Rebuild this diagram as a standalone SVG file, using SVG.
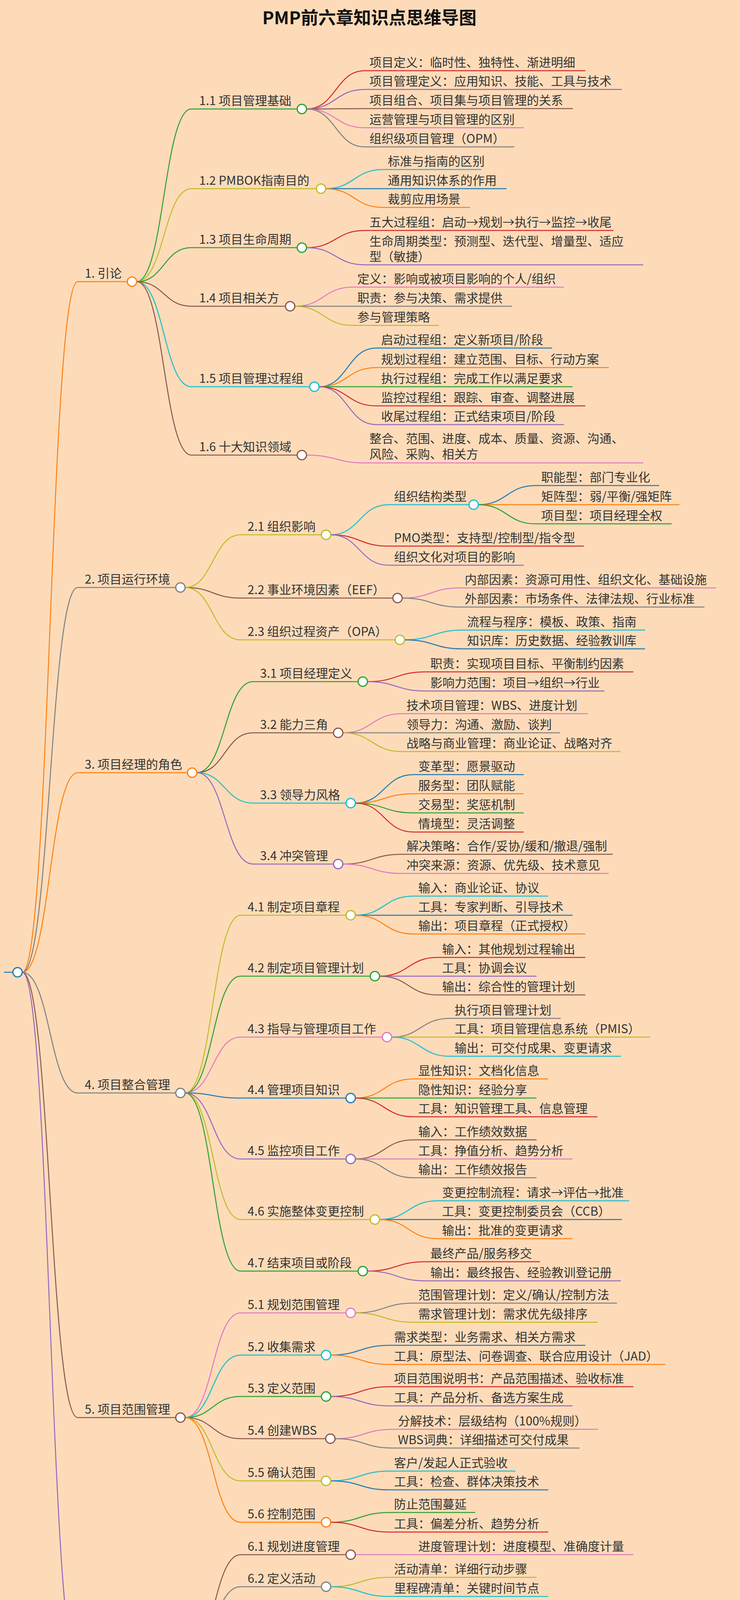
<svg xmlns="http://www.w3.org/2000/svg" width="1895" height="4627" viewBox="0 0 1895 4627">
<style>
text{font-family:"Noto Sans CJK SC","Noto Sans",sans-serif;font-size:31px;fill:#333}
.t{font-size:45px;font-weight:bold;fill:#111}
path{fill:none;stroke-width:2.5}
circle{fill:#fff;stroke-width:3}
.red{stroke:#d62728}.pur{stroke:#9467bd}.brn{stroke:#8c564b}.pnk{stroke:#e377c2}.gry{stroke:#7f7f7f}.olv{stroke:#bcbd22}.cyn{stroke:#17becf}.blu{stroke:#1f77b4}.org{stroke:#ff7f0e}.grn{stroke:#2ca02c}
</style>
<rect width="1895" height="4627" fill="#fddbb9"/>
<text class="t" x="946" y="62" text-anchor="middle">PMP前六章知识点思维导图</text>
<g id="connectors">
<path class="blu" d="M10 2489 L33 2489"/>
<path class="org" d="M57 2489 C128 2489 128 721 199 721 L326 721"/>
<path class="gry" d="M57 2489 C128 2489 128 1504 199 1504 L450 1504"/>
<path class="org" d="M57 2489 C128 2489 128 1978 199 1978 L480 1978"/>
<path class="gry" d="M57 2489 C128 2489 128 2798 199 2798 L450 2798"/>
<path class="brn" d="M57 2489 C128 2489 128 3629 199 3629 L450 3629"/>
<path class="pur" d="M57 2489 C128 2489 128 4266 199 4266 L450 4266"/>
<!-- sec1 -->
<path class="grn" d="M350 721 C420 721 420 279 490 279 L761 279"/>
<path class="olv" d="M350 721 C420 721 420 483 490 483 L810 483"/>
<path class="grn" d="M350 721 C420 721 420 634 490 634 L761 634"/>
<path class="brn" d="M350 721 C420 721 420 784 490 784 L731 784"/>
<path class="cyn" d="M350 721 C420 721 420 990 490 990 L793 990"/>
<path class="brn" d="M350 721 C420 721 420 1165 490 1165 L761 1165"/>
<path class="red" d="M785 279 C860 279 860 181 934 181 L1499 181"/>
<path class="pur" d="M785 279 C860 279 860 229 934 229 L1592 229"/>
<path class="brn" d="M785 279 C860 279 860 278 934 278 L1467 278"/>
<path class="pnk" d="M785 279 C860 279 860 327 934 327 L1341 327"/>
<path class="gry" d="M785 279 C860 279 860 376 934 376 L1317 376"/>
<path class="cyn" d="M834 483 C907 483 907 434 981 434 L1233 434"/>
<path class="blu" d="M834 483 C907 483 907 483 981 483 L1297 483"/>
<path class="org" d="M834 483 C907 483 907 531 981 531 L1204 531"/>
<path class="red" d="M785 634 C860 634 860 590 934 590 L1571 590"/>
<path class="pur" d="M785 634 C860 634 860 678 934 678 L1647 678"/>
<path class="pnk" d="M755 784 C829 784 829 735 903 735 L1444 735"/>
<path class="gry" d="M755 784 C829 784 829 784 903 784 L1311 784"/>
<path class="olv" d="M755 784 C829 784 829 833 903 833 L1124 833"/>
<path class="blu" d="M817 990 C890 990 890 891 964 891 L1414 891"/>
<path class="org" d="M817 990 C890 990 890 941 964 941 L1559 941"/>
<path class="grn" d="M817 990 C890 990 890 990 964 990 L1466 990"/>
<path class="red" d="M817 990 C890 990 890 1039 964 1039 L1499 1039"/>
<path class="pur" d="M817 990 C890 990 890 1087 964 1087 L1444 1087"/>
<path class="pnk" d="M785 1165 C860 1165 860 1185 934 1185 L1647 1185"/>
<!-- sec2 -->
<path class="olv" d="M474 1504 C545 1504 545 1369 616 1369 L823 1369"/>
<path class="brn" d="M474 1504 C545 1504 545 1531 616 1531 L1006 1531"/>
<path class="olv" d="M474 1504 C545 1504 545 1638 616 1638 L1012 1638"/>
<path class="cyn" d="M847 1369 C921 1369 921 1292 995 1292 L1201 1292"/>
<path class="red" d="M847 1369 C921 1369 921 1398 995 1398 L1495 1398"/>
<path class="pur" d="M847 1369 C921 1369 921 1447 995 1447 L1341 1447"/>
<path class="blu" d="M1225 1292 C1298 1292 1298 1243 1372 1243 L1688 1243"/>
<path class="org" d="M1225 1292 C1298 1292 1298 1292 1372 1292 L1740 1292"/>
<path class="grn" d="M1225 1292 C1298 1292 1298 1341 1372 1341 L1720 1341"/>
<path class="pnk" d="M1030 1531 C1104 1531 1104 1505 1178 1505 L1834 1505"/>
<path class="gry" d="M1030 1531 C1104 1531 1104 1554 1178 1554 L1804 1554"/>
<path class="cyn" d="M1036 1638 C1110 1638 1110 1613 1184 1613 L1652 1613"/>
<path class="blu" d="M1036 1638 C1110 1638 1110 1661 1184 1661 L1652 1661"/>
<!-- sec3 -->
<path class="grn" d="M504 1978 C576 1978 576 1745 648 1745 L917 1745"/>
<path class="brn" d="M504 1978 C576 1978 576 1876 648 1876 L854 1876"/>
<path class="cyn" d="M504 1978 C576 1978 576 2056 648 2056 L886 2056"/>
<path class="pur" d="M504 1978 C576 1978 576 2212 648 2212 L854 2212"/>
<path class="red" d="M941 1745 C1015 1745 1015 1720 1090 1720 L1622 1720"/>
<path class="pur" d="M941 1745 C1015 1745 1015 1769 1090 1769 L1548 1769"/>
<path class="pnk" d="M878 1876 C953 1876 953 1827 1029 1827 L1505 1827"/>
<path class="gry" d="M878 1876 C953 1876 953 1876 1029 1876 L1434 1876"/>
<path class="olv" d="M878 1876 C953 1876 953 1924 1029 1924 L1589 1924"/>
<path class="blu" d="M910 2056 C984 2056 984 1983 1059 1983 L1341 1983"/>
<path class="org" d="M910 2056 C984 2056 984 2032 1059 2032 L1341 2032"/>
<path class="grn" d="M910 2056 C984 2056 984 2081 1059 2081 L1341 2081"/>
<path class="red" d="M910 2056 C984 2056 984 2130 1059 2130 L1341 2130"/>
<path class="brn" d="M878 2212 C953 2212 953 2187 1029 2187 L1569 2187"/>
<path class="pnk" d="M878 2212 C953 2212 953 2236 1029 2236 L1559 2236"/>
<!-- sec4 -->
<path class="olv" d="M474 2798 C545 2798 545 2343 616 2343 L886 2343"/>
<path class="grn" d="M474 2798 C545 2798 545 2499 616 2499 L948 2499"/>
<path class="pnk" d="M474 2798 C545 2798 545 2655 616 2655 L979 2655"/>
<path class="blu" d="M474 2798 C545 2798 545 2811 616 2811 L886 2811"/>
<path class="pur" d="M474 2798 C545 2798 545 2967 616 2967 L886 2967"/>
<path class="olv" d="M474 2798 C545 2798 545 3122 616 3122 L948 3122"/>
<path class="grn" d="M474 2798 C545 2798 545 3254 616 3254 L917 3254"/>
<path class="cyn" d="M910 2343 C984 2343 984 2294 1059 2294 L1404 2294"/>
<path class="blu" d="M910 2343 C984 2343 984 2343 1059 2343 L1466 2343"/>
<path class="org" d="M910 2343 C984 2343 984 2391 1059 2391 L1499 2391"/>
<path class="red" d="M972 2499 C1046 2499 1046 2451 1120 2451 L1499 2451"/>
<path class="pur" d="M972 2499 C1046 2499 1046 2499 1120 2499 L1374 2499"/>
<path class="brn" d="M972 2499 C1046 2499 1046 2547 1120 2547 L1499 2547"/>
<path class="gry" d="M1003 2655 C1077 2655 1077 2607 1152 2607 L1436 2607"/>
<path class="olv" d="M1003 2655 C1077 2655 1077 2655 1152 2655 L1665 2655"/>
<path class="cyn" d="M1003 2655 C1077 2655 1077 2704 1152 2704 L1590 2704"/>
<path class="org" d="M910 2811 C984 2811 984 2762 1059 2762 L1404 2762"/>
<path class="grn" d="M910 2811 C984 2811 984 2811 1059 2811 L1374 2811"/>
<path class="red" d="M910 2811 C984 2811 984 2859 1059 2859 L1530 2859"/>
<path class="brn" d="M910 2967 C984 2967 984 2918 1059 2918 L1374 2918"/>
<path class="pnk" d="M910 2967 C984 2967 984 2967 1059 2967 L1466 2967"/>
<path class="gry" d="M910 2967 C984 2967 984 3015 1059 3015 L1374 3015"/>
<path class="cyn" d="M972 3122 C1046 3122 1046 3074 1120 3074 L1611 3074"/>
<path class="blu" d="M972 3122 C1046 3122 1046 3122 1120 3122 L1593 3122"/>
<path class="org" d="M972 3122 C1046 3122 1046 3171 1120 3171 L1466 3171"/>
<path class="red" d="M941 3254 C1015 3254 1015 3230 1090 3230 L1383 3230"/>
<path class="pur" d="M941 3254 C1015 3254 1015 3279 1090 3279 L1590 3279"/>
<!-- sec5 -->
<path class="pnk" d="M474 3629 C545 3629 545 3361 616 3361 L886 3361"/>
<path class="cyn" d="M474 3629 C545 3629 545 3469 616 3469 L823 3469"/>
<path class="grn" d="M474 3629 C545 3629 545 3575 616 3575 L823 3575"/>
<path class="brn" d="M474 3629 C545 3629 545 3683 616 3683 L834 3683"/>
<path class="olv" d="M474 3629 C545 3629 545 3791 616 3791 L823 3791"/>
<path class="org" d="M474 3629 C545 3629 545 3897 616 3897 L823 3897"/>
<path class="gry" d="M910 3361 C984 3361 984 3336 1059 3336 L1580 3336"/>
<path class="olv" d="M910 3361 C984 3361 984 3385 1059 3385 L1530 3385"/>
<path class="blu" d="M847 3469 C922 3469 922 3444 997 3444 L1499 3444"/>
<path class="org" d="M847 3469 C922 3469 922 3493 997 3493 L1704 3493"/>
<path class="red" d="M847 3575 C922 3575 922 3550 997 3550 L1622 3550"/>
<path class="pur" d="M847 3575 C922 3575 922 3599 997 3599 L1466 3599"/>
<path class="pnk" d="M858 3683 C932 3683 932 3659 1007 3659 L1532 3659"/>
<path class="gry" d="M858 3683 C932 3683 932 3707 1007 3707 L1484 3707"/>
<path class="cyn" d="M847 3791 C922 3791 922 3766 997 3766 L1320 3766"/>
<path class="blu" d="M847 3791 C922 3791 922 3814 997 3814 L1404 3814"/>
<path class="grn" d="M847 3897 C922 3897 922 3872 997 3872 L1217 3872"/>
<path class="red" d="M847 3897 C922 3897 922 3922 997 3922 L1404 3922"/>
<!-- sec6 -->
<path class="brn" d="M474 4266 C545 4266 545 3980 616 3980 L886 3980"/>
<path class="gry" d="M474 4266 C545 4266 545 4062 616 4062 L823 4062"/>
<path class="blu" d="M474 4266 C545 4266 545 4170 616 4170 L886 4170"/>
<path class="red" d="M474 4266 C545 4266 545 4272 616 4272 L948 4272"/>
<path class="brn" d="M474 4266 C545 4266 545 4399 616 4399 L886 4399"/>
<path class="cyn" d="M474 4266 C545 4266 545 4550 616 4550 L823 4550"/>
<path class="pnk" d="M910 3980 L1622 3980"/>
<path class="olv" d="M847 4062 C922 4062 922 4038 997 4038 L1374 4038"/>
<path class="cyn" d="M847 4062 C922 4062 922 4087 997 4087 L1404 4087"/>
<path class="org" d="M910 4170 C984 4170 984 4145 1059 4145 L1702 4145"/>
<path class="grn" d="M910 4170 C984 4170 984 4193 1059 4193 L1560 4193"/>
<path class="pur" d="M972 4272 C1046 4272 1046 4291 1120 4291 L1834 4291"/>
<path class="pnk" d="M910 4399 C984 4399 984 4350 1059 4350 L1517 4350"/>
<path class="gry" d="M910 4399 C984 4399 984 4398 1059 4398 L1764 4398"/>
<path class="olv" d="M910 4399 C984 4399 984 4448 1059 4448 L1732 4448"/>
<path class="blu" d="M847 4550 C922 4550 922 4507 997 4507 L1472 4507"/>
<path class="org" d="M847 4550 C922 4550 922 4554 997 4554 L1380 4554"/>
<path class="grn" d="M847 4550 C922 4550 922 4596 997 4596 L1042 4596"/>
</g>
<g id="root"><circle class="blu" cx="45" cy="2489" r="12"/></g>
<g id="n1"><text x="217" y="711">1. 引论</text><circle class="org" cx="338" cy="721" r="12"/></g>
<g id="n1-1"><text x="510" y="269">1.1 项目管理基础</text><circle class="grn" cx="773" cy="279" r="12"/></g>
<g id="n1-1-l"><text x="946" y="171">项目定义：临时性、独特性、渐进明细</text><text x="946" y="219">项目管理定义：应用知识、技能、工具与技术</text><text x="946" y="268">项目组合、项目集与项目管理的关系</text><text x="946" y="317">运营管理与项目管理的区别</text><text x="946" y="366">组织级项目管理（OPM）</text></g>
<g id="n1-2"><text x="510" y="473">1.2 PMBOK指南目的</text><circle class="olv" cx="822" cy="483" r="12"/></g>
<g id="n1-2-l"><text x="993" y="424">标准与指南的区别</text><text x="993" y="473">通用知识体系的作用</text><text x="993" y="521">裁剪应用场景</text></g>
<g id="n1-3"><text x="510" y="624">1.3 项目生命周期</text><circle class="grn" cx="773" cy="634" r="12"/></g>
<g id="n1-3-l"><text x="946" y="580">五大过程组：启动→规划→执行→监控→收尾</text><text x="946" y="629">生命周期类型：预测型、迭代型、增量型、适应</text><text x="946" y="668">型（敏捷）</text></g>
<g id="n1-4"><text x="510" y="774">1.4 项目相关方</text><circle class="brn" cx="743" cy="784" r="12"/></g>
<g id="n1-4-l"><text x="915" y="725">定义：影响或被项目影响的个人/组织</text><text x="915" y="774">职责：参与决策、需求提供</text><text x="915" y="823">参与管理策略</text></g>
<g id="n1-5"><text x="510" y="980">1.5 项目管理过程组</text><circle class="cyn" cx="805" cy="990" r="12"/></g>
<g id="n1-5-l"><text x="976" y="881">启动过程组：定义新项目/阶段</text><text x="976" y="931">规划过程组：建立范围、目标、行动方案</text><text x="976" y="980">执行过程组：完成工作以满足要求</text><text x="976" y="1029">监控过程组：跟踪、审查、调整进展</text><text x="976" y="1077">收尾过程组：正式结束项目/阶段</text></g>
<g id="n1-6"><text x="510" y="1155">1.6 十大知识领域</text><circle class="brn" cx="773" cy="1165" r="12"/></g>
<g id="n1-6-l"><text x="946" y="1134">整合、范围、进度、成本、质量、资源、沟通、</text><text x="946" y="1174">风险、采购、相关方</text></g>
<g id="n2"><text x="217" y="1494">2. 项目运行环境</text><circle class="gry" cx="462" cy="1504" r="12"/></g>
<g id="n2-1"><text x="634" y="1359">2.1 组织影响</text><circle class="olv" cx="835" cy="1369" r="12"/></g>
<g id="n2-1-1"><text x="1009" y="1282">组织结构类型</text><circle class="cyn" cx="1213" cy="1292" r="12"/></g>
<g id="n2-1-1-l"><text x="1386" y="1233">职能型：部门专业化</text><text x="1386" y="1282">矩阵型：弱/平衡/强矩阵</text><text x="1386" y="1331">项目型：项目经理全权</text></g>
<g id="n2-1-l"><text x="1009" y="1388">PMO类型：支持型/控制型/指令型</text><text x="1009" y="1437">组织文化对项目的影响</text></g>
<g id="n2-2"><text x="634" y="1521">2.2 事业环境因素（EEF）</text><circle class="brn" cx="1018" cy="1531" r="12"/></g>
<g id="n2-2-l"><text x="1190" y="1495">内部因素：资源可用性、组织文化、基础设施</text><text x="1190" y="1544">外部因素：市场条件、法律法规、行业标准</text></g>
<g id="n2-3"><text x="634" y="1628">2.3 组织过程资产（OPA）</text><circle class="olv" cx="1024" cy="1638" r="12"/></g>
<g id="n2-3-l"><text x="1196" y="1603">流程与程序：模板、政策、指南</text><text x="1196" y="1651">知识库：历史数据、经验教训库</text></g>
<g id="n3"><text x="217" y="1968">3. 项目经理的角色</text><circle class="org" cx="492" cy="1978" r="12"/></g>
<g id="n3-1"><text x="666" y="1735">3.1 项目经理定义</text><circle class="grn" cx="929" cy="1745" r="12"/></g>
<g id="n3-1-l"><text x="1102" y="1710">职责：实现项目目标、平衡制约因素</text><text x="1102" y="1759">影响力范围：项目→组织→行业</text></g>
<g id="n3-2"><text x="666" y="1866">3.2 能力三角</text><circle class="brn" cx="866" cy="1876" r="12"/></g>
<g id="n3-2-l"><text x="1041" y="1817">技术项目管理：WBS、进度计划</text><text x="1041" y="1866">领导力：沟通、激励、谈判</text><text x="1041" y="1914">战略与商业管理：商业论证、战略对齐</text></g>
<g id="n3-3"><text x="666" y="2046">3.3 领导力风格</text><circle class="cyn" cx="898" cy="2056" r="12"/></g>
<g id="n3-3-l"><text x="1071" y="1973">变革型：愿景驱动</text><text x="1071" y="2022">服务型：团队赋能</text><text x="1071" y="2071">交易型：奖惩机制</text><text x="1071" y="2120">情境型：灵活调整</text></g>
<g id="n3-4"><text x="666" y="2202">3.4 冲突管理</text><circle class="pur" cx="866" cy="2212" r="12"/></g>
<g id="n3-4-l"><text x="1041" y="2177">解决策略：合作/妥协/缓和/撤退/强制</text><text x="1041" y="2226">冲突来源：资源、优先级、技术意见</text></g>
<g id="n4"><text x="217" y="2788">4. 项目整合管理</text><circle class="gry" cx="462" cy="2798" r="12"/></g>
<g id="n4-1"><text x="634" y="2333">4.1 制定项目章程</text><circle class="olv" cx="898" cy="2343" r="12"/></g>
<g id="n4-1-l"><text x="1071" y="2284">输入：商业论证、协议</text><text x="1071" y="2333">工具：专家判断、引导技术</text><text x="1071" y="2381">输出：项目章程（正式授权）</text></g>
<g id="n4-2"><text x="634" y="2489">4.2 制定项目管理计划</text><circle class="grn" cx="960" cy="2499" r="12"/></g>
<g id="n4-2-l"><text x="1132" y="2441">输入：其他规划过程输出</text><text x="1132" y="2489">工具：协调会议</text><text x="1132" y="2537">输出：综合性的管理计划</text></g>
<g id="n4-3"><text x="634" y="2645">4.3 指导与管理项目工作</text><circle class="pnk" cx="991" cy="2655" r="12"/></g>
<g id="n4-3-l"><text x="1164" y="2597">执行项目管理计划</text><text x="1164" y="2645">工具：项目管理信息系统（PMIS）</text><text x="1164" y="2694">输出：可交付成果、变更请求</text></g>
<g id="n4-4"><text x="634" y="2801">4.4 管理项目知识</text><circle class="blu" cx="898" cy="2811" r="12"/></g>
<g id="n4-4-l"><text x="1071" y="2752">显性知识：文档化信息</text><text x="1071" y="2801">隐性知识：经验分享</text><text x="1071" y="2849">工具：知识管理工具、信息管理</text></g>
<g id="n4-5"><text x="634" y="2957">4.5 监控项目工作</text><circle class="pur" cx="898" cy="2967" r="12"/></g>
<g id="n4-5-l"><text x="1071" y="2908">输入：工作绩效数据</text><text x="1071" y="2957">工具：挣值分析、趋势分析</text><text x="1071" y="3005">输出：工作绩效报告</text></g>
<g id="n4-6"><text x="634" y="3112">4.6 实施整体变更控制</text><circle class="olv" cx="960" cy="3122" r="12"/></g>
<g id="n4-6-l"><text x="1132" y="3064">变更控制流程：请求→评估→批准</text><text x="1132" y="3112">工具：变更控制委员会（CCB）</text><text x="1132" y="3161">输出：批准的变更请求</text></g>
<g id="n4-7"><text x="634" y="3244">4.7 结束项目或阶段</text><circle class="grn" cx="929" cy="3254" r="12"/></g>
<g id="n4-7-l"><text x="1102" y="3220">最终产品/服务移交</text><text x="1102" y="3269">输出：最终报告、经验教训登记册</text></g>
<g id="n5"><text x="217" y="3619">5. 项目范围管理</text><circle class="brn" cx="462" cy="3629" r="12"/></g>
<g id="n5-1"><text x="634" y="3351">5.1 规划范围管理</text><circle class="pnk" cx="898" cy="3361" r="12"/></g>
<g id="n5-1-l"><text x="1071" y="3326">范围管理计划：定义/确认/控制方法</text><text x="1071" y="3375">需求管理计划：需求优先级排序</text></g>
<g id="n5-2"><text x="634" y="3459">5.2 收集需求</text><circle class="cyn" cx="835" cy="3469" r="12"/></g>
<g id="n5-2-l"><text x="1009" y="3434">需求类型：业务需求、相关方需求</text><text x="1009" y="3483">工具：原型法、问卷调查、联合应用设计（JAD）</text></g>
<g id="n5-3"><text x="634" y="3565">5.3 定义范围</text><circle class="grn" cx="835" cy="3575" r="12"/></g>
<g id="n5-3-l"><text x="1009" y="3540">项目范围说明书：产品范围描述、验收标准</text><text x="1009" y="3589">工具：产品分析、备选方案生成</text></g>
<g id="n5-4"><text x="634" y="3673">5.4 创建WBS</text><circle class="brn" cx="846" cy="3683" r="12"/></g>
<g id="n5-4-l"><text x="1019" y="3649">分解技术：层级结构（100%规则）</text><text x="1019" y="3697">WBS词典：详细描述可交付成果</text></g>
<g id="n5-5"><text x="634" y="3781">5.5 确认范围</text><circle class="olv" cx="835" cy="3791" r="12"/></g>
<g id="n5-5-l"><text x="1009" y="3756">客户/发起人正式验收</text><text x="1009" y="3804">工具：检查、群体决策技术</text></g>
<g id="n5-6"><text x="634" y="3887">5.6 控制范围</text><circle class="org" cx="835" cy="3897" r="12"/></g>
<g id="n5-6-l"><text x="1009" y="3862">防止范围蔓延</text><text x="1009" y="3912">工具：偏差分析、趋势分析</text></g>
<g id="n6"><text x="217" y="4256">6. 项目进度管理</text><circle class="pur" cx="462" cy="4266" r="12"/></g>
<g id="n6-1"><text x="634" y="3970">6.1 规划进度管理</text><circle class="brn" cx="898" cy="3980" r="12"/></g>
<g id="n6-1-l"><text x="1071" y="3970">进度管理计划：进度模型、准确度计量</text></g>
<g id="n6-2"><text x="634" y="4052">6.2 定义活动</text><circle class="gry" cx="835" cy="4062" r="12"/></g>
<g id="n6-2-l"><text x="1009" y="4028">活动清单：详细行动步骤</text><text x="1009" y="4077">里程碑清单：关键时间节点</text></g>
<g id="n6-3"><text x="634" y="4160">6.3 排列活动顺序</text><circle class="blu" cx="898" cy="4170" r="12"/></g>
<g id="n6-3-l"><text x="1071" y="4135">紧前关系绘图法（PDM）：FS/FF/SF/SS逻辑</text><text x="1071" y="4183">依赖关系类型：强制、选择、外部</text></g>
<g id="n6-4"><text x="634" y="4262">6.4 估算活动持续时间</text><circle class="red" cx="960" cy="4272" r="12"/></g>
<g id="n6-4-l"><text x="1132" y="4243">工具：类比估算（快速）、参数估算（统计）、三</text><text x="1132" y="4280">点估算（PERT公式）</text></g>
<g id="n6-5"><text x="634" y="4389">6.5 制定进度计划</text><circle class="brn" cx="898" cy="4399" r="12"/></g>
<g id="n6-5-l"><text x="1071" y="4340">关键路径法（CPM）：最长路径</text><text x="1071" y="4388">资源优化：平衡（资源受限）、平滑（时间受限）</text><text x="1071" y="4438">进度压缩：赶工（加资源）、快速跟进（并行）</text></g>
<g id="n6-6"><text x="634" y="4540">6.6 控制进度</text><circle class="cyn" cx="835" cy="4550" r="12"/></g>
<g id="n6-6-l"><text x="1009" y="4497">绩效审查：挣值分析（SV/SPI）</text><text x="1009" y="4544">进度预测：EAC/ETC计算</text></g>
</svg>
